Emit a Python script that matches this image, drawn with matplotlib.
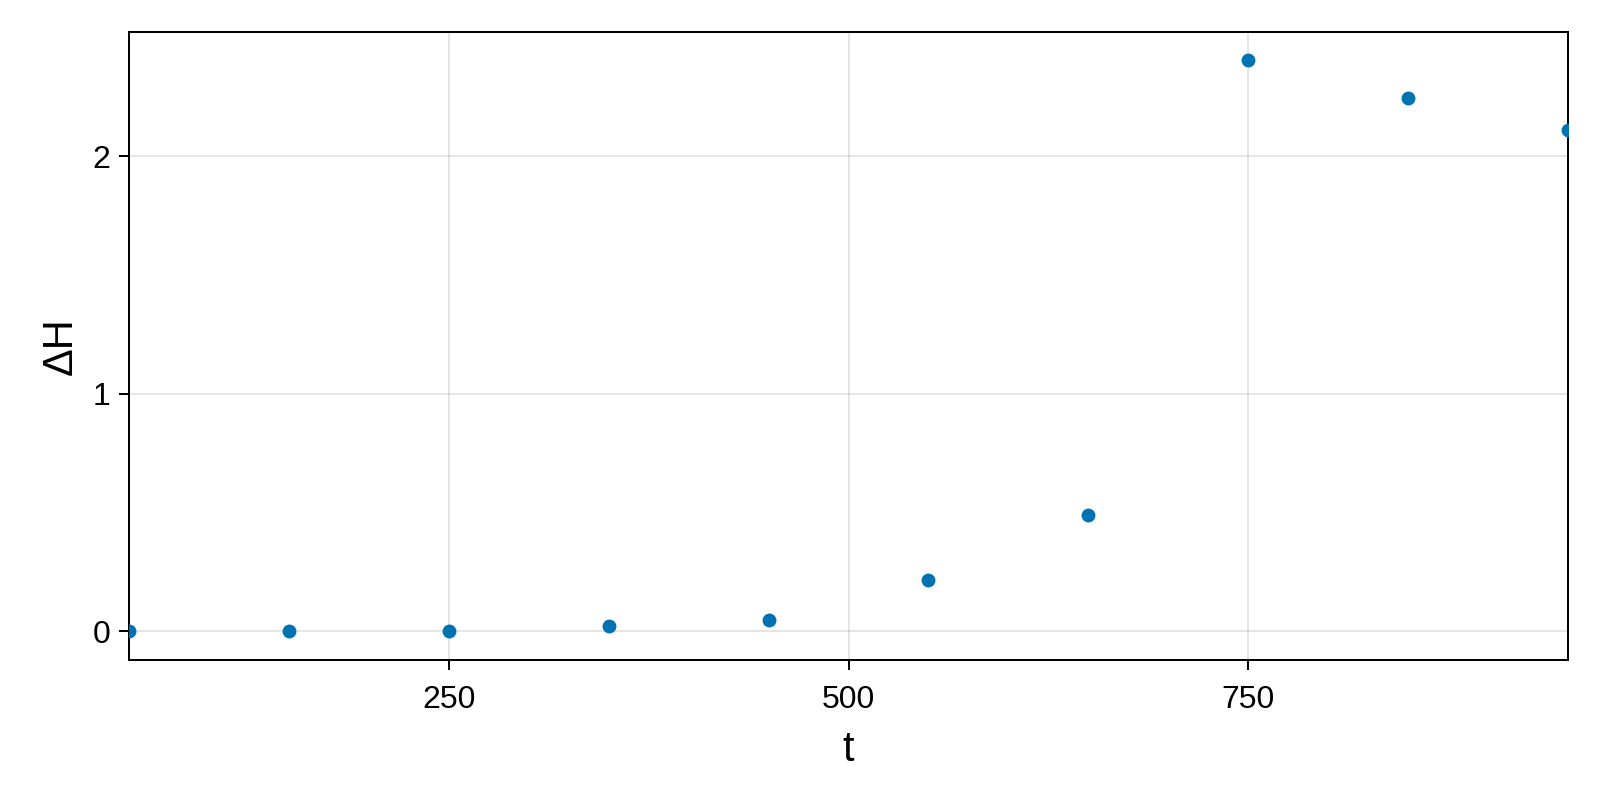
import matplotlib
matplotlib.use("Agg")
import matplotlib.pyplot as plt

# data
t = [50, 150, 250, 350, 450, 550, 650, 750, 850, 950]
delta_h = [0.0, 0.0, 0.004, 0.022, 0.047, 0.215, 0.491, 2.405, 2.246, 2.112]
x_ticks = [250, 500, 750]
y_ticks = [0, 1, 2]

plt.rcParams['font.family'] = ['Liberation Sans', 'DejaVu Sans']

fig = plt.figure(figsize=(16, 8), dpi=100)
ax = fig.add_axes([129 / 1600, 1 - 660 / 800, (1568 - 129) / 1600, (660 - 32) / 800])

# grid behind the points
ax.set_axisbelow(True)
ax.grid(True, color='black', alpha=0.1, linewidth=1.44)

ax.plot(t, delta_h, 'o', color='#0072B2', markersize=10, markeredgewidth=0,
        clip_on=True, zorder=3)

ax.set_xlim(50, 950)
ax.set_ylim(-0.12, 2.524)
ax.set_xticks(x_ticks)
ax.set_yticks(y_ticks)
ax.tick_params(axis='both', direction='out', length=7.2, width=1.44, labelsize=23)
ax.tick_params(axis='x', pad=10.5)
ax.tick_params(axis='y', pad=6)

for spine in ax.spines.values():
    spine.set_linewidth(1.44)

ax.set_xlabel('t', fontsize=30, labelpad=11)
ax.set_ylabel('ΔH', fontsize=30, labelpad=9)

fig.savefig('out.png', dpi=100)
